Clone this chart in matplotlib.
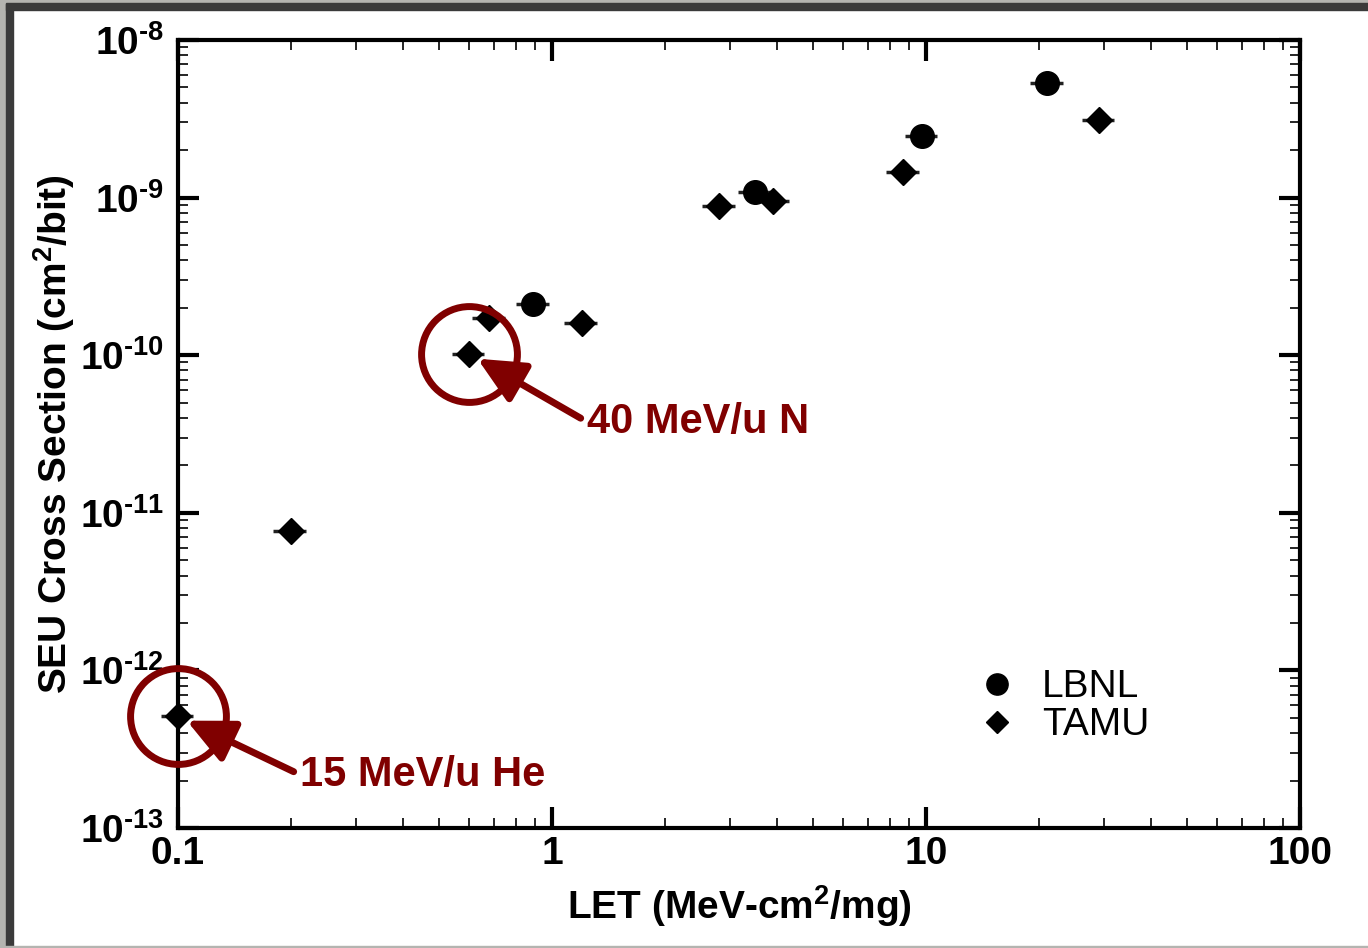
import matplotlib
matplotlib.use("Agg")
import matplotlib.pyplot as plt
from matplotlib.patches import Rectangle
from matplotlib.ticker import LogLocator, NullFormatter

plt.rcParams["font.family"] = ["Liberation Sans", "DejaVu Sans"]
plt.rcParams["mathtext.fontset"] = "custom"
plt.rcParams["mathtext.rm"] = "Liberation Sans:bold"
plt.rcParams["mathtext.bf"] = "Liberation Sans:bold"
plt.rcParams["mathtext.default"] = "rm"

# SEU cross section vs LET, two facilities
lbnl_let = [0.89, 3.5, 9.75, 21.1]
lbnl_xs = [2.1e-10, 1.09e-9, 2.46e-9, 5.3e-9]

tamu_let = [0.1, 0.2, 0.6, 0.68, 1.2, 2.8, 3.9, 8.7, 29.0]
tamu_xs = [5.1e-13, 7.7e-12, 1.02e-10, 1.72e-10, 1.6e-10, 8.9e-10, 9.5e-10, 1.45e-9, 3.1e-9]

let_err_frac = 0.1  # relative LET uncertainty

# highlighted beams: (label, LET, cross section)
callouts = [("15 MeV/u He", 0.1, 5.1e-13),
            ("40 MeV/u N", 0.6, 1.02e-10)]

xticks = [0.1, 1, 10, 100]
xticklabels = ["0.1", "1", "10", "100"]
yexps = [-13, -12, -11, -10, -9, -8]

dark_red = "#800000"

fig = plt.figure(figsize=(13.68, 9.48), dpi=100)
ax = fig.add_axes([0.1301, 0.1266, 0.8202, 0.8312])

for xs, ys in ((lbnl_let, lbnl_xs), (tamu_let, tamu_xs)):
    err = [x * let_err_frac for x in xs]
    ax.errorbar(xs, ys, xerr=[err, err], fmt="none", ecolor="#222222",
                elinewidth=2.5, capsize=0, clip_on=False)

ax.plot(lbnl_let, lbnl_xs, "o", color="black", markersize=17, linestyle="none",
        label="LBNL", clip_on=False, zorder=3)
ax.plot(tamu_let, tamu_xs, "D", color="black", markersize=13, linestyle="none",
        label="TAMU", clip_on=False, zorder=3)

# circled points with arrows
for text, x, y in callouts:
    ax.plot([x], [y], "o", markersize=69, markerfacecolor="none",
            markeredgecolor=dark_red, markeredgewidth=5, clip_on=False, zorder=4)

arrow = dict(arrowstyle="-|>,head_length=0.95,head_width=0.45", mutation_scale=30,
             color=dark_red, lw=5, relpos=(0, 0.5), shrinkA=3, shrinkB=7)
ax.annotate(callouts[0][0], xy=callouts[0][1:], xytext=(88, -42), textcoords="offset points",
            ha="left", va="center", fontsize=30, fontweight="bold", color=dark_red,
            arrowprops=arrow)
ax.annotate(callouts[1][0], xy=callouts[1][1:], xytext=(85, -49), textcoords="offset points",
            ha="left", va="center", fontsize=30, fontweight="bold", color=dark_red,
            arrowprops=arrow)

ax.set_xscale("log")
ax.set_yscale("log")
ax.set_xlim(0.1, 100)
ax.set_ylim(1e-13, 1e-8)

ax.set_xticks(xticks)
ax.set_xticklabels(xticklabels, fontweight="bold")
ax.set_yticks([10.0 ** e for e in yexps])
ax.set_yticklabels([r"$10^{\text{%d}}$" % e for e in yexps])
ax.xaxis.set_minor_locator(LogLocator(base=10, subs=range(2, 10), numticks=20))
ax.yaxis.set_minor_locator(LogLocator(base=10, subs=range(2, 10), numticks=20))
ax.xaxis.set_minor_formatter(NullFormatter())
ax.yaxis.set_minor_formatter(NullFormatter())

ax.tick_params(which="both", direction="in", top=True, right=True, labelsize=28)
ax.tick_params(axis="x", which="major", pad=6)
ax.tick_params(which="major", length=15, width=3)
ax.tick_params(axis="y", which="major", pad=10)
ax.tick_params(which="minor", length=7, width=1.2)
for s in ax.spines.values():
    s.set_linewidth(3)

ax.set_xlabel("LET (MeV-cm$^2$/mg)", fontsize=28, fontweight="bold", labelpad=8)
ax.set_ylabel("SEU Cross Section (cm$^2$/bit)", fontsize=28, fontweight="bold", labelpad=2)

ax.legend(loc="center left", bbox_to_anchor=(0.689, 0.255), bbox_transform=fig.transFigure,
          frameon=False, fontsize=28, handletextpad=0.65, labelspacing=0.05,
          handlelength=1.0, markerscale=0.9)

# window frame around the figure
fig.patches.append(Rectangle((0, 0), 0.0045, 1, transform=fig.transFigure,
                             color="#b4b4b0", zorder=-1))
fig.patches.append(Rectangle((0.0045, 0), 0.005, 1, transform=fig.transFigure,
                             color="#3a3a3a", zorder=-1))
fig.patches.append(Rectangle((0, 0.9968), 1, 0.0032, transform=fig.transFigure,
                             color="#b4b4b0", zorder=-1))
fig.patches.append(Rectangle((0.0045, 0.9895), 1, 0.0074, transform=fig.transFigure,
                             color="#3a3a3a", zorder=-1))
fig.patches.append(Rectangle((0, 0), 1, 0.0025, transform=fig.transFigure,
                             color="#b4b4b0", zorder=-1))

fig.savefig("out.png", dpi=100)
